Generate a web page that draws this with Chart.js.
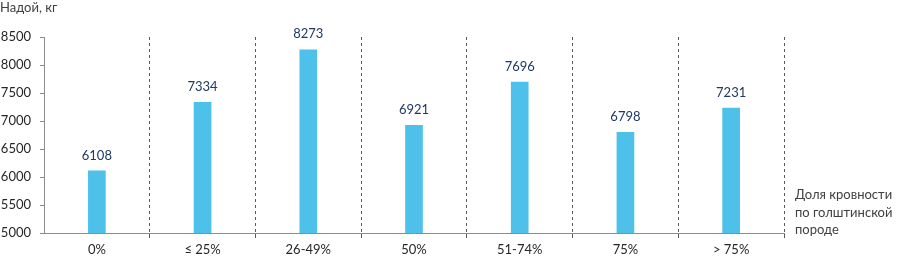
<!DOCTYPE html>
<html>
<head>
<meta charset="utf-8">
<script src="https://cdn.jsdelivr.net/npm/chart.js@4/dist/chart.umd.min.js"></script>
<style>
  html, body { margin: 0; padding: 0; background: #ffffff; }
  #wrap { width: 898px; height: 258px; position: relative; }
</style>
</head>
<body>
<div id="wrap"><canvas id="c" width="898" height="258"></canvas></div>
<script>
const categories = ['0%', '≤ 25%', '26-49%', '50%', '51-74%', '75%', '> 75%'];
const milkYield = [6108, 7334, 8273, 6921, 7696, 6798, 7231];
const yTicks = [5000, 5500, 6000, 6500, 7000, 7500, 8000, 8500];
const yTitle = 'Надой, кг';
const xTitleLines = ['Доля кровности', 'по голштинской', 'породе'];

const FONT = 'Lato, "Open Sans", sans-serif';

const valueLabels = {
  id: 'valueLabels',
  afterDatasetsDraw(chart) {
    const ctx = chart.ctx;
    const meta = chart.getDatasetMeta(0);
    ctx.save();
    ctx.font = '13px ' + FONT;
    ctx.fillStyle = '#1F3864';
    ctx.textAlign = 'center';
    ctx.textBaseline = 'bottom';
    meta.data.forEach((el, i) => {
      ctx.fillText(String(milkYield[i]), el.x, el.y - 9);
    });
    ctx.restore();
  }
};

const sideTexts = {
  id: 'sideTexts',
  afterDraw(chart) {
    const ctx = chart.ctx;
    const area = chart.chartArea;
    ctx.save();
    ctx.font = '13px ' + FONT;
    ctx.fillStyle = '#404040';
    ctx.textBaseline = 'middle';
    ctx.textAlign = 'left';
    ctx.fillText(yTitle, 0, 8);
    xTitleLines.forEach((t, i) => {
      ctx.fillText(t, area.right + 11, area.bottom - 38 + i * 17.5);
    });
    ctx.restore();
  }
};

new Chart(document.getElementById('c'), {
  type: 'bar',
  data: {
    labels: categories,
    datasets: [{
      data: milkYield,
      backgroundColor: '#4DC1EA',
      borderWidth: 0,
      barThickness: 17
    }]
  },
  options: {
    responsive: false,
    animation: false,
    devicePixelRatio: 1,
    layout: { padding: { top: 37, right: 114, left: 0, bottom: 0 } },
    plugins: {
      legend: { display: false },
      title: { display: false },
      tooltip: { enabled: false }
    },
    scales: {
      x: {
        offset: true,
        afterFit(scale) { scale.height = 25; },
        grid: {
          offset: true,
          display: true,
          drawOnChartArea: true,
          drawTicks: true,
          tickLength: 5,
          lineWidth: 1,
          color: (ctx) => ctx.index === 0 ? 'rgba(0,0,0,0)' : '#5a5a5a'
        },
        border: { display: true, color: '#8c8c8c', width: 1, dash: [3, 3] },
        ticks: {
          color: '#262626',
          font: { family: FONT, size: 13 },
          padding: 4,
          maxRotation: 0
        }
      },
      y: {
        min: 5000,
        max: 8500,
        afterFit(scale) { scale.width = 44; },
        afterBuildTicks(scale) { scale.ticks = yTicks.map(v => ({ value: v })); },
        grid: {
          display: true,
          drawOnChartArea: false,
          drawTicks: true,
          tickLength: 4,
          color: '#8c8c8c'
        },
        border: { display: true, color: '#8c8c8c', width: 1 },
        ticks: {
          color: '#262626',
          font: { family: FONT, size: 13 },
          padding: 9,
          callback: (v) => String(v)
        }
      }
    }
  },
  plugins: [valueLabels, sideTexts]
});
</script>
</body>
</html>
